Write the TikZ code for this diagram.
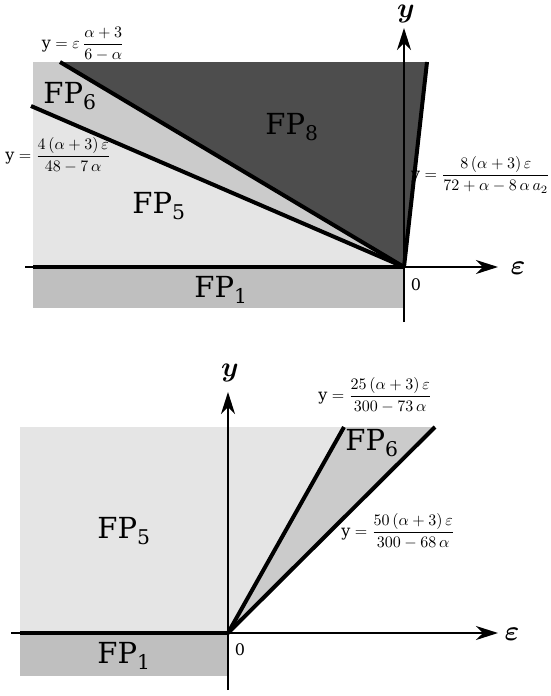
\documentclass[tikz,border=0pt]{standalone}
\usepackage{amsmath}
\usepackage{graphicx}
\usepackage{fontspec}
\setmainfont{DejaVu Serif}
\usetikzlibrary{arrows.meta}
\definecolor{cfive}{HTML}{E5E5E5}
\definecolor{csix}{HTML}{CBCBCB}
\definecolor{ceight}{HTML}{4D4D4D}
\definecolor{cone}{HTML}{BFBFBF}
\newcommand{\eqtext}[1]{\scalebox{1.6}{#1}}
\newcommand{\axtext}[1]{\scalebox{2.8}{#1}}
\tikzset{
  axisline/.style={line width=1.4pt,-{Stealth[length=22pt,width=14pt,inset=7pt]}},
  plainaxis/.style={line width=1.4pt},
  bound/.style={line width=4pt},
  midbound/.style={line width=2.6pt},
  fplab/.style={font=\fontsize{29}{29}\selectfont, inner sep=0pt},
  eqlab/.style={font=\normalsize, inner sep=0pt},
  axlab/.style={font=\normalsize, inner sep=0pt},
  zlab/.style={font=\fontsize{16}{16}\selectfont, inner sep=0pt}
}
\begin{document}
\begin{tikzpicture}[x=1pt,y=-1pt]
\useasboundingbox (0,0) rectangle (551,696);
% ---------- top diagram ----------
\coordinate (O1) at (404,267);
\coordinate (A1) at (60,62);
\coordinate (B1) at (31,106);
\coordinate (C1) at (427,62);
\coordinate (L1) at (33,267);
\coordinate (D1) at (404,308);
\fill[cfive] (33,62) rectangle (404,267);
\fill[cone] (33,267) rectangle (404,308);
\fill[csix] (33,62) -- (A1) -- (O1) -- (33,107.2) -- cycle;
\fill[ceight] (A1) -- (C1) -- (O1) -- cycle;
\draw[plainaxis] (25,267) -- (33,267);
\draw[axisline] (O1) -- (498,267) coordinate (X1);
\draw[plainaxis] (404,322) -- (D1);
\draw[axisline] (O1) -- (404,28) coordinate (Y1);
\draw[midbound] (O1) -- (D1);
\draw[bound] (O1) -- (A1);
\draw[bound] (O1) -- (B1);
\draw[bound] (O1) -- (C1);
\draw[bound] (L1) -- (O1);
\node[axlab] (ylab1) at (406,14) {\axtext{$\boldsymbol{y}$}};
\node[axlab] (elab1) at (518,268) {\axtext{$\boldsymbol{\varepsilon}$}};
\node[zlab] (z1) at (416,285) {0};
\node[fplab] (fp8) at (292,127) {FP\textsubscript{8}};
\node[fplab] (fp6) at (70,96) {FP\textsubscript{6}};
\node[fplab] (fp5) at (159,206) {FP\textsubscript{5}};
\node[fplab] (fp1t) at (221,290) {FP\textsubscript{1}};
\node[eqlab] (eqa) at (83,44) {\eqtext{$\mathrm{y} = \varepsilon\,\dfrac{\alpha+3}{6-\alpha}$}};
\node[eqlab] (eqb) at (58,155) {\eqtext{$\mathrm{y} = \dfrac{4\,(\alpha+3)\,\varepsilon}{48-7\,\alpha}$}};
\node[eqlab,anchor=west] (eqc) at (411,175) {\eqtext{$\mathrm{y} = \dfrac{8\,(\alpha+3)\,\varepsilon}{72+\alpha-8\,\alpha\,a_2}$}};
% ---------- bottom diagram ----------
\coordinate (O2) at (228,633);
\coordinate (A2) at (344,427);
\coordinate (B2) at (435,427);
\coordinate (L2) at (20,633);
\coordinate (D2) at (228,676);
\fill[cfive] (20,427) -- (A2) -- (O2) -- (L2) -- cycle;
\fill[csix] (A2) -- (B2) -- (O2) -- cycle;
\fill[cone] (20,633) rectangle (228,676);
\draw[plainaxis] (11,633) -- (20,633);
\draw[axisline] (O2) -- (498,633) coordinate (X2);
\draw[plainaxis] (228,690) -- (D2);
\draw[axisline] (O2) -- (228,392) coordinate (Y2);
\draw[midbound] (O2) -- (D2);
\draw[bound] (O2) -- (A2);
\draw[bound] (O2) -- (B2);
\draw[bound] (L2) -- (O2);
\node[axlab] (ylab2) at (230,373) {\axtext{$\boldsymbol{y}$}};
\node[axlab] (elab2) at (512,634) {\axtext{$\boldsymbol{\varepsilon}$}};
\node[zlab] (z2) at (240,650) {0};
\node[fplab] (fp6b) at (372,443) {FP\textsubscript{6}};
\node[fplab] (fp5b) at (124,531) {FP\textsubscript{5}};
\node[fplab] (fp1b) at (124,656) {FP\textsubscript{1}};
\node[eqlab] (eqd) at (375,395) {\eqtext{$\mathrm{y} = \dfrac{25\,(\alpha+3)\,\varepsilon}{300-73\,\alpha}$}};
\node[eqlab] (eqe) at (398,531) {\eqtext{$\mathrm{y} = \dfrac{50\,(\alpha+3)\,\varepsilon}{300-68\,\alpha}$}};
\end{tikzpicture}
\end{document}
